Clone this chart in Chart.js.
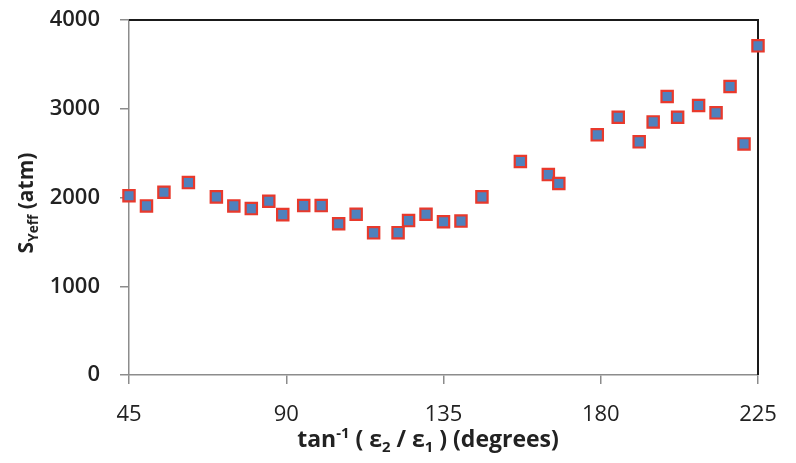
<!DOCTYPE html>
<html lang="en">
<head>
    <meta charset="UTF-8" />
    <title>S_Yeff vs angle</title>
    <style>
        html, body {
            margin: 0;
            padding: 0;
            background: #ffffff;
        }

        #wrap {
            width: 796px;
            height: 463px;
        }
    </style>
</head>
<body>
    <div id="wrap">
        <canvas id="chart" width="796" height="463"></canvas>
    </div>
    <script src="https://cdn.jsdelivr.net/npm/chart.js@4.4.0/dist/chart.umd.min.js"></script>
    <script>
        // angles (degrees)
        const angles = [45, 50, 55, 62, 70, 75, 80, 85, 89, 95, 100, 105, 110, 115, 122, 125, 130,
            135, 140, 146, 157, 165, 168, 179, 185, 191, 195, 199, 202, 208, 213, 217, 221, 225];
        // S_Yeff in atm
        const syeff = [2020, 1905, 2059, 2168, 2007, 1905, 1875, 1957, 1807, 1909, 1909, 1704, 1811,
            1602, 1604, 1740, 1811, 1727, 1734, 2007, 2405, 2258, 2157, 2706, 2904, 2627, 2852,
            3138, 2904, 3036, 2954, 3250, 2604, 3709];
        const xTicks = [45, 90, 135, 180, 225];
        const yTicks = [0, 1000, 2000, 3000, 4000];

        const FONT = "'Open Sans', sans-serif";
        const TEXT = "#222222";

        const points = angles.map((a, i) => ({ x: a, y: syeff[i] }));

        // draws pieces of text with sub/superscripts, centred on the origin
        function drawRuns(ctx, runs, size) {
            let total = 0;
            runs.forEach(r => {
                ctx.font = "bold " + (r.s ? size * 0.65 : size) + "px " + FONT;
                total += ctx.measureText(r.t).width;
            });
            let x = -total / 2;
            runs.forEach(r => {
                let fs = r.s ? size * 0.65 : size;
                ctx.font = "bold " + fs + "px " + FONT;
                let dy = 0;
                if (r.s == "sup") dy = -size * 0.38;
                if (r.s == "sub") dy = size * 0.22;
                ctx.fillText(r.t, x, dy);
                x += ctx.measureText(r.t).width;
            });
        }

        const frame = {
            id: "frame",
            beforeDatasetsDraw(chart) {
                const a = chart.chartArea;
                const ctx = chart.ctx;
                ctx.save();
                ctx.strokeStyle = "#1a1a1a";
                ctx.lineWidth = 2;
                ctx.beginPath();
                ctx.moveTo(a.left, a.top);
                ctx.lineTo(a.right, a.top);
                ctx.lineTo(a.right, a.bottom);
                ctx.stroke();
                ctx.restore();
            },
            afterDraw(chart) {
                const ctx = chart.ctx;
                ctx.save();
                ctx.fillStyle = TEXT;
                ctx.textAlign = "left";
                ctx.textBaseline = "alphabetic";
                // x title
                ctx.save();
                ctx.translate(428, 447);
                drawRuns(ctx, [
                    { t: "tan" }, { t: "-1", s: "sup" }, { t: " ( \u03b5" }, { t: "2", s: "sub" },
                    { t: " / \u03b5" }, { t: "1", s: "sub" }, { t: " ) (degrees)" }
                ], 23);
                ctx.restore();
                // y title
                ctx.save();
                ctx.translate(33, 203);
                ctx.rotate(-Math.PI / 2);
                drawRuns(ctx, [{ t: "S" }, { t: "Yeff", s: "sub" }, { t: " (atm)" }], 21);
                ctx.restore();
                ctx.restore();
            }
        };

        new Chart(document.getElementById("chart"), {
            type: "scatter",
            data: {
                datasets: [{
                    data: points,
                    pointStyle: "rect",
                    pointRadius: 8,
                    pointHoverRadius: 8,
                    backgroundColor: "#4f81bd",
                    borderColor: "#e8392c",
                    borderWidth: 2.2,
                    clip: false,
                }],
            },
            options: {
                responsive: false,
                animation: false,
                layout: { padding: { left: 0, top: 20, right: 38, bottom: 0 } },
                plugins: {
                    legend: { display: false },
                    tooltip: { enabled: false },
                },
                scales: {
                    x: {
                        type: "linear",
                        min: 45,
                        max: 225,
                        afterFit(scale) { scale.height = 88; },
                        afterBuildTicks(scale) { scale.ticks = xTicks.map(v => ({ value: v })); },
                        grid: { drawOnChartArea: false, drawTicks: true, tickLength: 9, color: "#8c8c8c", lineWidth: 1.5 },
                        border: { color: "#8c8c8c", width: 1.5 },
                        ticks: { color: TEXT, padding: 18, font: { family: FONT, size: 22 }, callback: v => String(v) },
                    },
                    y: {
                        min: 0,
                        max: 4000,
                        afterFit(scale) {
                            scale.width = 129;
                            scale.paddingTop = 0;
                            scale.paddingBottom = 0;
                        },
                        afterBuildTicks(scale) { scale.ticks = yTicks.map(v => ({ value: v })); },
                        grid: { drawOnChartArea: false, drawTicks: true, tickLength: 9, color: "#8c8c8c", lineWidth: 1.5 },
                        border: { color: "#8c8c8c", width: 1.5 },
                        ticks: { color: TEXT, padding: 20, font: { family: FONT, size: 22, weight: "600" }, callback: v => String(v) },
                    },
                },
            },
            plugins: [frame],
        });
    </script>
</body>
</html>
